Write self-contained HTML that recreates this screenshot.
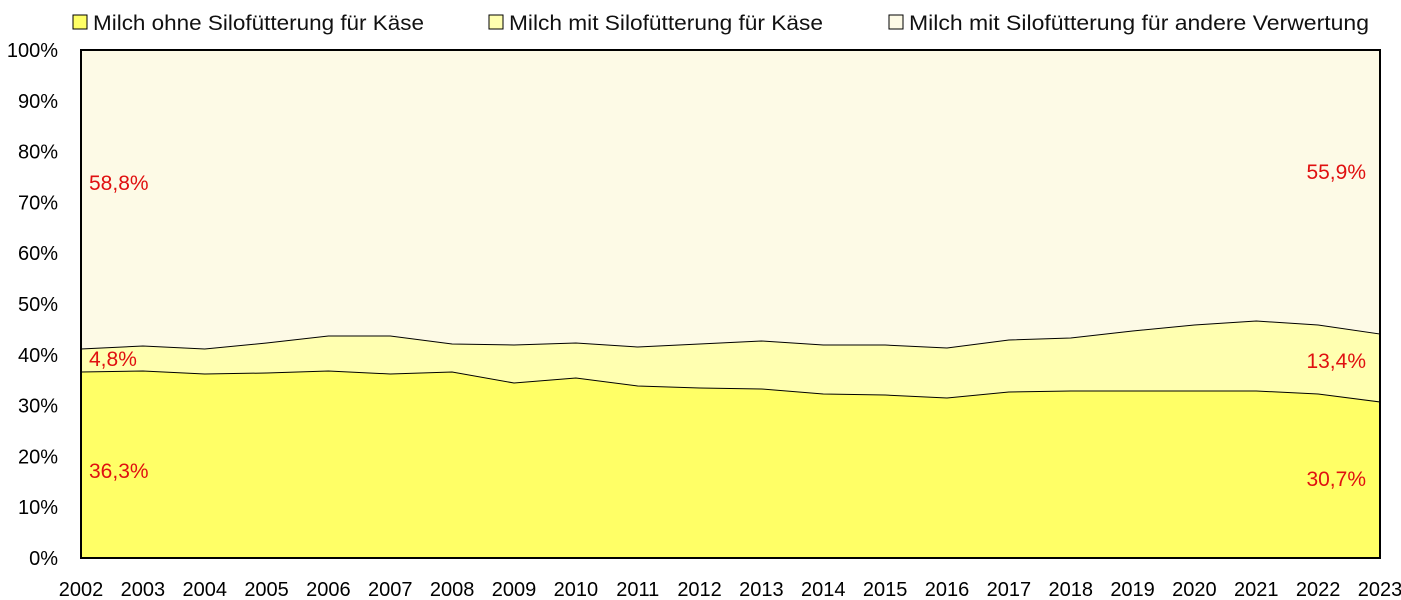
<!DOCTYPE html>
<html><head><meta charset="utf-8"><style>
body{margin:0;background:#fff;}
svg{display:block;font-family:"Liberation Sans",sans-serif;}
</style></head><body>
<svg width="1401" height="600" viewBox="0 0 1401 600">
<rect x="0" y="0" width="1401" height="600" fill="#fff"/>
<rect x="81" y="50" width="1299" height="508" fill="#FDFAE6"/>
<polygon id="mid" fill="#FFFFB0" stroke="#000" stroke-width="1" points=""/>
<polygon id="low" fill="#FFFF66" stroke="#000" stroke-width="1" points=""/>
<rect x="81" y="50" width="1299" height="508" fill="none" stroke="#000" stroke-width="2"/>
<g font-size="20" fill="#000" text-anchor="end" id="yl"></g>
<g font-size="20" fill="#000" text-anchor="middle" id="xl"></g>
<g font-size="21" fill="#111">
<rect x="73" y="15" width="14" height="14" fill="#FFFF66" stroke="#000"/>
<text x="93" y="30" textLength="331" lengthAdjust="spacingAndGlyphs">Milch ohne Silofütterung für Käse</text>
<rect x="489" y="15" width="14" height="14" fill="#FFFFB0" stroke="#000"/>
<text x="509" y="30" textLength="314" lengthAdjust="spacingAndGlyphs">Milch mit Silofütterung für Käse</text>
<rect x="889" y="15" width="14" height="14" fill="#FDFAE6" stroke="#000"/>
<text x="909" y="30" textLength="460" lengthAdjust="spacingAndGlyphs">Milch mit Silofütterung für andere Verwertung</text>
</g>
<g font-size="21" fill="#E01010">
<text x="89" y="190">58,8%</text>
<text x="89" y="366">4,8%</text>
<text x="89" y="478">36,3%</text>
<text x="1366" y="179" text-anchor="end">55,9%</text>
<text x="1366" y="368" text-anchor="end">13,4%</text>
<text x="1366" y="486" text-anchor="end">30,7%</text>
</g>
</svg>
<script>
var lo=[372,371,374,373,371,374,372,383,378,386,388,389,394,395,398,392,391,391,391,391,394,402];
var up=[349,346,349,343,336,336,344,345,343,347,344,341,345,345,348,340,338,331,325,321,325,334];
var x0=81,dx=1299/21;
function pts(a){return a.map((y,i)=>(x0+i*dx).toFixed(1)+","+y).join(" ");}
document.getElementById('mid').setAttribute('points',x0+",558 "+pts(up)+" 1380,558");
document.getElementById('low').setAttribute('points',x0+",558 "+pts(lo)+" 1380,558");
var ns="http://www.w3.org/2000/svg",yl=document.getElementById('yl'),xl=document.getElementById('xl');
for(var i=0;i<=10;i++){var t=document.createElementNS(ns,'text');t.setAttribute('x',58);t.setAttribute('y',558-i*50.8+7);t.textContent=(i*10)+"%";yl.appendChild(t);}
for(var i=0;i<22;i++){var t=document.createElementNS(ns,'text');t.setAttribute('x',x0+i*dx);t.setAttribute('y',596);t.textContent=2002+i;xl.appendChild(t);}
</script>
</body></html>
